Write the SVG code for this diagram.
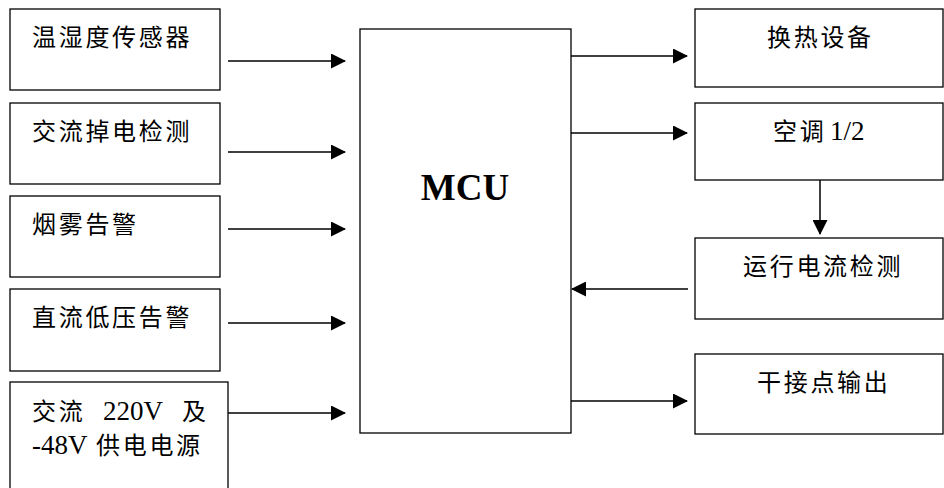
<svg xmlns="http://www.w3.org/2000/svg" width="944" height="488" viewBox="0 0 944 488">
<style>
.box{fill:#fff;stroke:#000;stroke-width:1.3}
.t{font-family:"Liberation Serif","Noto Sans CJK SC",serif;font-size:24px;fill:#000;letter-spacing:2.7px}
.l{letter-spacing:0;font-size:27px}
.mcu{font-family:"Liberation Serif",serif;font-size:37px;font-weight:bold;fill:#000}
.c{stroke:#000;stroke-width:1.5;fill:none}
</style>
<defs>
<marker id="ah" markerWidth="15" markerHeight="15" refX="14" refY="7.5" orient="auto" markerUnits="userSpaceOnUse">
<path d="M0,0 L15,7.5 L0,15 Z" fill="#000"/>
</marker>
</defs>
<rect width="944" height="488" fill="#fff"/>
<g id="n1"><rect class="box" x="10" y="9" width="210" height="81"/><text class="t" x="32" y="46">温湿度传感器</text></g>
<g id="n2"><rect class="box" x="10" y="103" width="210" height="81"/><text class="t" x="32" y="140">交流掉电检测</text></g>
<g id="n3"><rect class="box" x="10" y="196" width="210" height="81"/><text class="t" x="32" y="233">烟雾告警</text></g>
<g id="n4"><rect class="box" x="10" y="289" width="210" height="82"/><text class="t" x="32" y="326">直流低压告警</text></g>
<g id="n5"><rect class="box" x="10" y="382" width="218" height="120"/>
<text class="t" y="420"><tspan x="32">交流</tspan><tspan x="103" class="l">220V</tspan><tspan x="182">及</tspan></text>
<text class="t" y="454"><tspan x="32" class="l">-48V</tspan><tspan x="96">供电电源</tspan></text></g>
<g id="mcu"><rect class="box" x="360" y="29" width="211" height="404"/><text class="mcu" x="465" y="200" text-anchor="middle">MCU</text></g>
<g id="r1"><rect class="box" x="695" y="9" width="248" height="78"/><text class="t" x="767" y="46">换热设备</text></g>
<g id="r2"><rect class="box" x="695" y="103" width="248" height="77"/><text class="t" y="140"><tspan x="773">空调</tspan><tspan x="830" class="l">1/2</tspan></text></g>
<g id="r3"><rect class="box" x="695" y="238" width="248" height="81"/><text class="t" x="743" y="275">运行电流检测</text></g>
<g id="r4"><rect class="box" x="695" y="354" width="248" height="80"/><text class="t" x="757" y="391">干接点输出</text></g>
<g id="connectors">
<line class="c" x1="228" y1="61" x2="345" y2="61" marker-end="url(#ah)"/>
<line class="c" x1="228" y1="152" x2="345" y2="152" marker-end="url(#ah)"/>
<line class="c" x1="228" y1="229" x2="345" y2="229" marker-end="url(#ah)"/>
<line class="c" x1="228" y1="323" x2="345" y2="323" marker-end="url(#ah)"/>
<line class="c" x1="228" y1="413" x2="345" y2="413" marker-end="url(#ah)"/>
<line class="c" x1="571" y1="56" x2="687" y2="56" marker-end="url(#ah)"/>
<line class="c" x1="571" y1="133" x2="687" y2="133" marker-end="url(#ah)"/>
<line class="c" x1="688" y1="289" x2="572" y2="289" marker-end="url(#ah)"/>
<line class="c" x1="571" y1="401" x2="687" y2="401" marker-end="url(#ah)"/>
<line class="c" x1="820" y1="180" x2="820" y2="234" marker-end="url(#ah)"/>
</g>
</svg>
